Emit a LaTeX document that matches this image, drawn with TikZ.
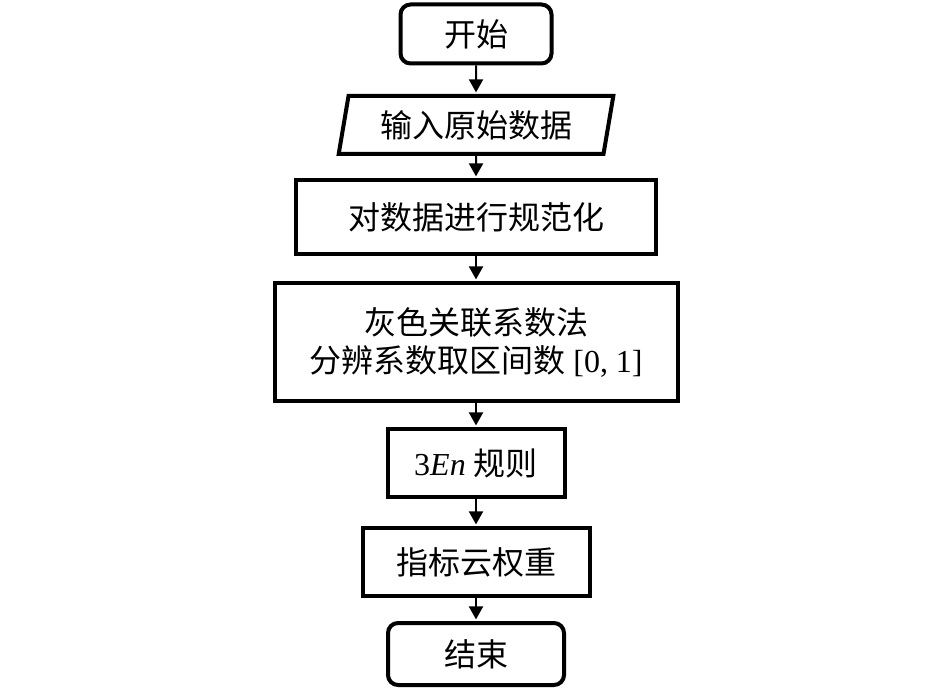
\documentclass[tikz,border=0pt]{standalone}
\usepackage{fontspec}
\setmainfont{Liberation Serif}
\newfontfamily\cjk{Noto Sans CJK SC}
\usetikzlibrary{shapes.geometric,arrows.meta}
\begin{document}
\begin{tikzpicture}[x=0.5pt,y=-0.5pt,
        box/.style={draw,line width=2pt,align=center,inner sep=0pt,font=\fontsize{16}{19}\selectfont},
        endbox/.style={box,rounded corners=5pt},
        arr/.style={line width=1pt,-{Triangle[length=6.5pt,width=7pt]},shorten >=0.8pt}]
        \useasboundingbox (0,0) rectangle (945,689);
        \node[endbox,minimum width=75.5pt,minimum height=29.5pt] (start) at (476,34) {\cjk 开始};
        \node[box,trapezium,trapezium left angle=76,trapezium right angle=104,trapezium stretches=true,
            minimum width=137.5pt,minimum height=29pt] (input) at (476,125) {\cjk 输入原始数据};
        \node[box,minimum width=180pt,minimum height=37pt] (norm) at (476,217) {\cjk 对数据进行规范化};
        \node[box,minimum width=201.5pt,minimum height=59pt] (grey) at (476,342)
            {{\cjk 灰色关联系数法}\\{\cjk 分辨系数取区间数} [0, 1]};
        \node[box,minimum width=88.5pt,minimum height=34pt] (rule) at (476,463) {3\textit{En} {\cjk 规则}};
        \node[box,minimum width=113.5pt,minimum height=34pt] (weight) at (476,562) {\cjk 指标云权重};
        \node[endbox,minimum width=88pt,minimum height=31pt] (stop) at (476,654) {\cjk 结束};
        \draw[arr] (start) -- (input);
        \draw[arr] (input) -- (norm);
        \draw[arr] (norm) -- (grey);
        \draw[arr] (grey) -- (rule);
        \draw[arr] (rule) -- (weight);
        \draw[arr] (weight) -- (stop);
    \end{tikzpicture}
\end{document}
